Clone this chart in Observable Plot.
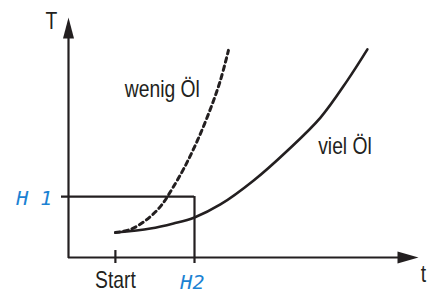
<!DOCTYPE html>
<html>
<head>
<meta charset="utf-8">
<script src="https://cdn.jsdelivr.net/npm/d3@7"></script>
<script src="https://cdn.jsdelivr.net/npm/@observablehq/plot@0.6"></script>
<style>
  html, body { margin: 0; padding: 0; background: #fff; }
  #chart svg { display: block; }
</style>
</head>
<body>
<div id="chart"></div>
<script>
// Curve "viel Öl" (solid)
const timeViel = [13.4, 23.4, 30.0, 36.0, 43.4, 52.9, 62.6, 72.0, 79.7, 85.4];
const tempViel = [10.4, 12.1, 14.2, 16.7, 22.1, 32.1, 44.6, 58.3, 73.8, 86.7];
// Curve "wenig Öl" (dashed)
const timeWenig = [13.4, 17.7, 22.0, 26.3, 29.7, 33.4, 37.1, 40.6, 43.4, 45.7];
const tempWenig = [10.4, 11.7, 15.4, 21.3, 28.8, 38.3, 49.6, 62.1, 73.8, 86.3];
// Marker positions
const startTime = 13.4;
const h2Time = 36.0;
const h1Temp = 25.4;
const axisMax = 100;
// Labels
const curveLabels = ["wenig Öl", "viel Öl"];
const curveLabelX = [26.8, 79.0];
const curveLabelY = [66.7, 43.3];
const axisLabels = ["T", "t"];
const axisLabelX = [-4.9, 101.4];
const axisLabelY = [95.4, -10.4];
const markLabels = ["H 1", "H2"];
const markLabelX = [-9.8, 35.4];
const markLabelY = [21.7, -13.0];
const tickLabels = ["Start"];
const tickLabelY = -12.9;

const ink = "#231f20";
const blue = "#1b82d3";
const font = "'Liberation Sans', Arial, sans-serif";

const viel = timeViel.map((t, i) => ({t, T: tempViel[i]}));
const wenig = timeWenig.map((t, i) => ({t, T: tempWenig[i]}));

const arrowUp = {draw(ctx) { ctx.moveTo(0, 0); ctx.lineTo(-5.5, 21); ctx.lineTo(5.5, 21); ctx.closePath(); }};
const arrowRight = {draw(ctx) { ctx.moveTo(0, 0); ctx.lineTo(-21, -6); ctx.lineTo(-21, 6); ctx.closePath(); }};

const narrow = {lineAnchor: "bottom", fontSize: 23, fill: ink};

const chart = Plot.plot({
  width: 438,
  height: 293,
  marginLeft: 68,
  marginRight: 20,
  marginTop: 17,
  marginBottom: 36,
  x: {domain: [0, axisMax], axis: null},
  y: {domain: [0, axisMax], axis: null},
  style: {background: "#fff", fontFamily: font},
  marks: [
    // axes
    Plot.ruleX([0], {y1: -0.4, y2: axisMax - 6, stroke: ink, strokeWidth: 2.2}),
    Plot.ruleY([0], {x1: 0, x2: axisMax - 4, stroke: ink, strokeWidth: 2.2}),
    Plot.dot([{x: 0, y: axisMax}], {x: "x", y: "y", symbol: arrowUp, fill: ink, stroke: "none"}),
    Plot.dot([{x: axisMax, y: 0}], {x: "x", y: "y", symbol: arrowRight, fill: ink, stroke: "none"}),
    // H1 / H2 rectangle and Start tick
    Plot.ruleY([h1Temp], {x1: -2, x2: h2Time, stroke: ink, strokeWidth: 2.2}),
    Plot.ruleX([h2Time], {y1: -2.5, y2: h1Temp, stroke: ink, strokeWidth: 2.2}),
    Plot.ruleX([startTime], {y1: -2.5, y2: 2.9, stroke: ink, strokeWidth: 2.2}),
    // curves
    Plot.line(wenig, {x: "t", y: "T", curve: "catmull-rom", stroke: ink, strokeWidth: 3, strokeDasharray: "4.5,4"}),
    Plot.line(viel, {x: "t", y: "T", curve: "catmull-rom", stroke: ink, strokeWidth: 2.6}),
    // labels
    Plot.text(curveLabels, {x: (d, i) => curveLabelX[i], y: (d, i) => curveLabelY[i], text: d => d, ...narrow}),
    Plot.text(axisLabels, {x: (d, i) => axisLabelX[i], y: (d, i) => axisLabelY[i], text: d => d, ...narrow}),
    Plot.text(tickLabels, {x: [startTime], y: [tickLabelY], text: d => d, ...narrow}),
    Plot.text(markLabels, {x: (d, i) => markLabelX[i], y: (d, i) => markLabelY[i], text: d => d, lineAnchor: "bottom", fontSize: 20, fontStyle: "italic", fontFamily: "'DejaVu Sans Mono', monospace", fill: blue})
  ]
});
// condensed look (Helvetica Condensed in the original)
d3.select(chart).selectAll("g[font-size='23'] text").each(function() {
  const t = this.getAttribute("transform") || "";
  this.setAttribute("transform", t + " scale(0.84,1)");
});
document.getElementById("chart").appendChild(chart);
</script>
</body>
</html>
